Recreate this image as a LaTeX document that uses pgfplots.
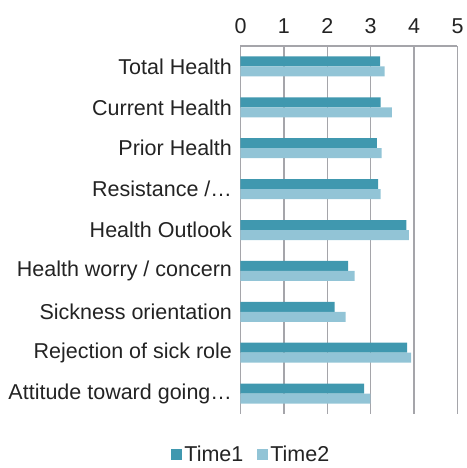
\documentclass[border=0pt]{standalone}
\usepackage{fontspec}
\setmainfont{Liberation Sans}
\usepackage{pgfplots}
\pgfplotsset{compat=1.18}
\definecolor{timeone}{RGB}{64,152,175}
\definecolor{timetwo}{RGB}{146,196,214}
\definecolor{gridgray}{RGB}{165,165,170}
\definecolor{txt}{RGB}{35,35,35}
\begin{document}
\begin{tikzpicture}
\begin{axis}[
  scale only axis,
  width=217pt, height=368pt,
  xbar, bar width=10pt,
  xmin=0, xmax=5,
  ymin=-0.5, ymax=8.5,
  y dir=reverse,
  xtick={0,1,2,3,4,5},
  ytick={0,1,2,3,4,5,6,7,8},
  yticklabels={Total Health,Current Health,Prior Health,Resistance /…,Health Outlook,Health worry / concern,Sickness orientation,Rejection of sick role,Attitude toward going…},
  xticklabel pos=top,
  axis x line*=top,
  axis y line*=left,
  x axis line style={draw=gridgray, line width=1.4pt, -},
  y axis line style={draw=none},
  major tick length=0pt,
  tick style={draw=none},
  xmajorgrids, grid style={draw=gridgray, line width=1.4pt},
  /pgf/number format/assume math mode=true,
  tick label style={font=\fontsize{21.5}{25}\selectfont, text=txt},
  xticklabel style={yshift=9pt},
  yticklabel style={xshift=-5pt},
  legend style={at={(0.05,-0.111)}, anchor=center, draw=none, font=\fontsize{21.5}{25}\selectfont, text=txt, /tikz/every even column/.append style={column sep=12pt}},
  legend columns=2,
  legend image code/.code={\fill[#1, draw=none] (0pt,-5.5pt) rectangle (11pt,5.5pt);},
]
\addplot[fill=timeone, draw=none, bar shift=5pt] coordinates {(3.22,0) (3.23,1) (3.14,2) (3.17,3) (3.82,4) (2.48,5) (2.17,6) (3.84,7) (2.85,8)};
\addplot[fill=timetwo, draw=none, bar shift=-5pt] coordinates {(3.32,0) (3.49,1) (3.25,2) (3.23,3) (3.88,4) (2.63,5) (2.42,6) (3.93,7) (2.99,8)};
\legend{Time1,Time2}
\end{axis}
\path ([shift={(-240.5pt,-54pt)}]current axis.south west) rectangle ([shift={(222.5pt,414pt)}]current axis.south west);
\end{tikzpicture}
\end{document}
